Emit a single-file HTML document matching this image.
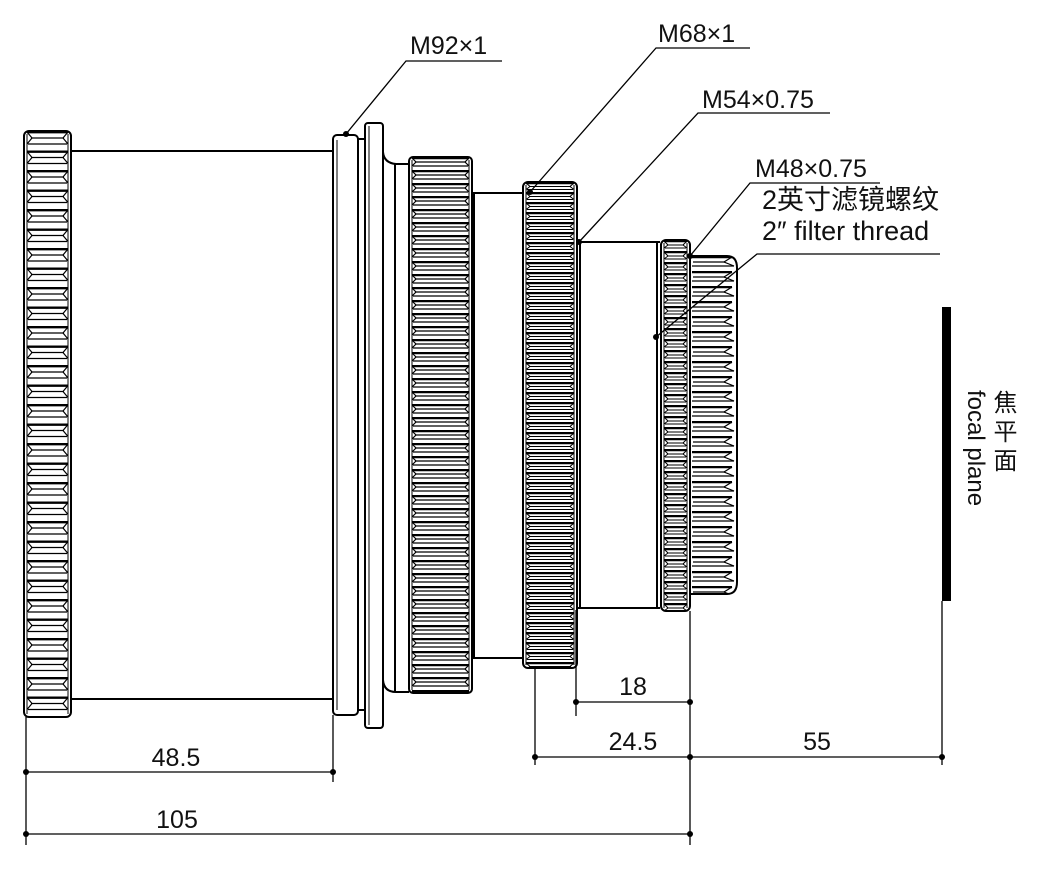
<!DOCTYPE html>
<html><head><meta charset="utf-8"><style>
body{margin:0;background:#fff}
svg{display:block}
.t{font-family:"Liberation Sans","Noto Sans CJK SC",sans-serif;font-size:25px;fill:#111}
.v{position:absolute;top:390px;writing-mode:vertical-rl;font-family:"Liberation Sans","Noto Sans CJK SC",sans-serif;font-size:24px;color:#111;line-height:27px}
</style></head><body>
<div style="position:relative;width:1040px;height:871px">
<svg width="1040" height="871" viewBox="0 0 1040 871" xmlns="http://www.w3.org/2000/svg">
<defs>
<pattern id="p1" patternUnits="userSpaceOnUse" x="24" y="131" width="47" height="19.5">
<rect width="47" height="19.5" fill="#fff"/>
<line x1="3" y1="1" x2="44" y2="1" stroke="#000" stroke-width="2.8"/>
<line x1="7" y1="7" x2="40" y2="7" stroke="#000" stroke-width="1.2"/>
<line x1="4" y1="13" x2="43" y2="13" stroke="#000" stroke-width="1.2"/>
<path d="M3,1 L8,7 L3,13 M44,1 L39,7 L44,13" stroke="#000" fill="none" stroke-width="1.2"/>
</pattern>
<pattern id="p3" patternUnits="userSpaceOnUse" x="409" y="157" width="63" height="13">
<rect width="63" height="13" fill="#fff"/>
<line x1="3" y1="1" x2="60" y2="1" stroke="#000" stroke-width="2.6"/>
<line x1="6" y1="5" x2="57" y2="5" stroke="#000" stroke-width="1.2"/>
<line x1="4" y1="9" x2="59" y2="9" stroke="#000" stroke-width="1.2"/>
<path d="M3,1 L7,5 L3,9 M60,1 L56,5 L60,9" stroke="#000" fill="none" stroke-width="1.2"/>
</pattern>
<pattern id="p4" patternUnits="userSpaceOnUse" x="523" y="182" width="54" height="10">
<rect width="54" height="10" fill="#fff"/>
<line x1="3" y1="1" x2="51" y2="1" stroke="#000" stroke-width="2.5"/>
<line x1="6" y1="4.5" x2="48" y2="4.5" stroke="#000" stroke-width="1.1"/>
<line x1="4" y1="7.5" x2="50" y2="7.5" stroke="#000" stroke-width="1.1"/>
<path d="M3,1 L7,4.5 L3,7.5 M51,1 L47,4.5 L51,7.5" stroke="#000" fill="none" stroke-width="1"/>
</pattern>
<pattern id="p5" patternUnits="userSpaceOnUse" x="661" y="240" width="29" height="11">
<rect width="29" height="11" fill="#fff"/>
<line x1="3" y1="1" x2="26" y2="1" stroke="#000" stroke-width="2.4"/>
<line x1="6" y1="5" x2="23" y2="5" stroke="#000" stroke-width="1.1"/>
<line x1="4" y1="8" x2="25" y2="8" stroke="#000" stroke-width="1.1"/>
<path d="M3,1 L7,5 L3,8 M26,1 L22,5 L26,8" stroke="#000" fill="none" stroke-width="1"/>
</pattern>
<pattern id="p6" patternUnits="userSpaceOnUse" x="690" y="256" width="47" height="15">
<rect width="47" height="15" fill="#fff"/>
<line x1="2" y1="1" x2="42" y2="1" stroke="#000" stroke-width="2.4"/>
<line x1="3" y1="6" x2="35" y2="6" stroke="#000" stroke-width="1.2"/>
<line x1="2" y1="10" x2="44" y2="10" stroke="#000" stroke-width="1.2"/>
<path d="M42,1 L34,6 L44,10" stroke="#000" fill="none" stroke-width="1.2"/>
</pattern>
</defs>
<g stroke="#000" fill="none" stroke-width="2">
<path d="M71,151 H334 M71,699 H334"/>
<rect x="24" y="131" width="47" height="586" rx="5" fill="url(#p1)"/>
<path d="M27,134 V714 M68,134 V714" stroke-width="1"/>
<rect x="333" y="135" width="25" height="580" rx="4" fill="#fff"/>
<path d="M337,140 V710" stroke-width="1"/>
<path d="M358,139 H365 M358,710 H365"/>
<rect x="365" y="123" width="18" height="605" rx="3" fill="#fff"/>
<path d="M369,126 V725" stroke-width="1"/>
<path d="M383,152 Q384,163 396,164 H409 M383,680 Q384,692 396,692 H409"/>
<path d="M395,164 V692"/>
<path d="M472,193 H523 M472,658 H523 M474,193 V658"/>
<rect x="409" y="157" width="63" height="536" rx="4" fill="url(#p3)"/>
<path d="M412,160 V690 M469,160 V690" stroke-width="1"/>
<rect x="523" y="182" width="54" height="486" rx="5" fill="url(#p4)"/>
<path d="M526,185 V665 M574,185 V665" stroke-width="1"/>
<path d="M577,242 H660 M577,608 H660 M580,242 V608 M657,242 V608"/>
<rect x="661" y="240" width="29" height="371" rx="5" fill="url(#p5)"/>
<path d="M664,243 V608 M687,243 V608" stroke-width="1"/>
<path d="M690,256 H727 Q737,256 737,268 V582 Q737,594 727,594 H690 Z" fill="url(#p6)"/>
</g>
<rect x="942" y="307" width="9" height="294" fill="#000"/>
<g stroke="#000" stroke-width="1.3" fill="none">
<path d="M346,134 L406,61 H502"/>
<path d="M530,192 L656,48 H750"/>
<path d="M579,242 L698,113 H830"/>
<path d="M690,256 L750,183 H880"/>
<path d="M656,337 L757,254 H940"/>
<path d="M26,717 V845 M333,715 V782 M535,668 V765 M576,610 V716 M690,611 V845 M942,601 V765"/>
<path d="M26,772 H333 M26,834 H690 M535,757 H942 M576,702 H690"/>
</g>
<g fill="#000">
<circle cx="346" cy="134" r="3"/><circle cx="530" cy="192" r="3"/><circle cx="579" cy="242" r="3"/><circle cx="690" cy="256" r="3"/><circle cx="656" cy="337" r="3"/>
<circle cx="26" cy="772" r="3"/><circle cx="333" cy="772" r="3"/><circle cx="26" cy="834" r="3"/><circle cx="690" cy="834" r="3"/>
<circle cx="535" cy="757" r="3"/><circle cx="690" cy="757" r="3"/><circle cx="942" cy="757" r="3"/>
<circle cx="576" cy="702" r="3"/><circle cx="690" cy="702" r="3"/>
</g>
<g class="t">
<text x="410" y="54">M92×1</text>
<text x="658" y="42">M68×1</text>
<text x="702" y="108">M54×0.75</text>
<text x="755" y="177">M48×0.75</text>
<text x="762" y="209" style="font-size:27px">2英寸滤镜螺纹</text>
<text x="762" y="240" style="font-size:27px">2″ filter thread</text>
<text x="176" y="766" text-anchor="middle">48.5</text>
<text x="177" y="828" text-anchor="middle">105</text>
<text x="633" y="695" text-anchor="middle">18</text>
<text x="633" y="750" text-anchor="middle">24.5</text>
<text x="817" y="750" text-anchor="middle">55</text>
</g>
</svg>
<div class="v" style="left:962px"><span style="letter-spacing:5px">焦平面</span><br>focal plane</div>
</div>
</body></html>
